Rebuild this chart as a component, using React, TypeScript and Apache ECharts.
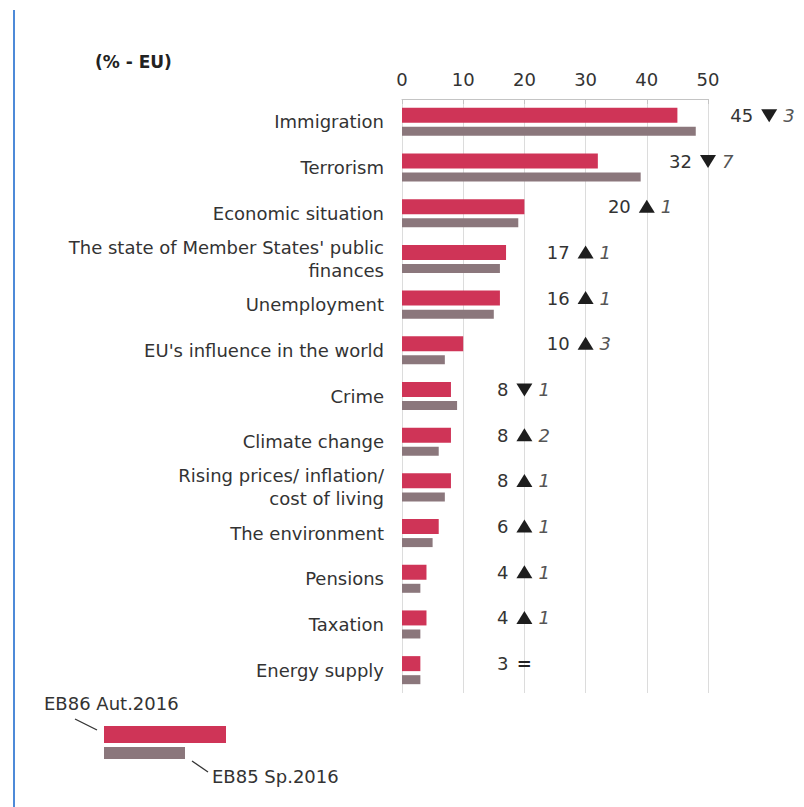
import React, { useEffect, useRef } from "react";
import * as echarts from "echarts";

const categories = [
  "Immigration",
  "Terrorism",
  "Economic situation",
  "The state of Member States' public\nfinances",
  "Unemployment",
  "EU's influence in the world",
  "Crime",
  "Climate change",
  "Rising prices/ inflation/\ncost of living",
  "The environment",
  "Pensions",
  "Taxation",
  "Energy supply",
];
const autumn2016 = [45, 32, 20, 17, 16, 10, 8, 8, 8, 6, 4, 4, 3];
const spring2016 = [48, 39, 19, 16, 15, 7, 9, 6, 7, 5, 3, 3, 3];
const changeValues = [3, 7, 1, 1, 1, 3, 1, 2, 1, 1, 1, 1, 0];
const changeDirections = ["down", "down", "up", "up", "up", "up", "down", "up", "up", "up", "up", "up", "equal"];
const xTicks = { min: 0, max: 50, interval: 10 };
const seriesNames = ["EB86 Aut.2016", "EB85 Sp.2016"];

const RED = "#cf3457";
const GREY = "#8b777c";
const FONT = "DejaVu Sans";

export default function App() {
  const ref = useRef<HTMLDivElement>(null);
  useEffect(() => {
    if (!ref.current) return;
    const chart = echarts.init(ref.current, null, { renderer: "svg" });
    const annotationData = autumn2016.map((v, i) => [
      Math.ceil((v + 11) / 10) * 10,
      i,
      v,
      changeValues[i],
      i,
    ]);
    chart.setOption({
      animation: false,
      title: {
        text: "(% - EU)",
        left: 90,
        top: 48,
        textStyle: { fontSize: 17, fontWeight: "bold", color: "#222", fontFamily: FONT },
      },
      grid: { left: 402, right: 96, top: 99, bottom: 114, containLabel: false },
      xAxis: {
        type: "value",
        position: "top",
        min: xTicks.min,
        max: xTicks.max,
        interval: xTicks.interval,
        axisLine: { show: true, onZero: false, lineStyle: { color: "#c4c4c4", width: 1 } },
        axisTick: { show: true, inside: true, length: 5, lineStyle: { color: "#c4c4c4" } },
        axisLabel: { fontSize: 18, color: "#333", margin: 11, fontFamily: FONT },
        splitLine: { show: true, lineStyle: { color: "#dcdcdc", width: 1 } },
      },
      yAxis: {
        type: "category",
        data: categories,
        inverse: true,
        axisLine: { show: false },
        axisTick: { show: false },
        axisLabel: {
          fontSize: 18,
          color: "#333",
          margin: 18,
          lineHeight: 23,
          fontFamily: FONT,
          align: "right",
        },
      },
      series: [
        {
          name: seriesNames[0],
          type: "bar",
          data: autumn2016,
          barWidth: 15,
          barGap: "27%",
          itemStyle: { color: RED },
        },
        {
          name: seriesNames[1],
          type: "bar",
          data: spring2016,
          barWidth: 9,
          itemStyle: { color: GREY },
        },
        {
          type: "custom",
          clip: false,
          data: annotationData,
          encode: { x: 0, y: 1 },
          renderItem: (params: any, api: any) => {
            const mx = api.value(0);
            const idx = api.value(1);
            const val = api.value(2);
            const chg = api.value(3);
            const dir = changeDirections[api.value(4)];
            const pt = api.coord([mx, idx]);
            const cx = pt[0];
            const cy = pt[1] - 6.5;
            const children: any[] = [
              {
                type: "text",
                style: {
                  text: String(val),
                  x: cx - 16,
                  y: cy,
                  align: "right",
                  verticalAlign: "middle",
                  fontSize: 18,
                  fill: "#333",
                  fontFamily: FONT,
                },
              },
            ];
            if (dir === "equal") {
              children.push({
                type: "text",
                style: {
                  text: "=",
                  x: cx,
                  y: cy,
                  align: "center",
                  verticalAlign: "middle",
                  fontSize: 18,
                  fontWeight: "bold",
                  fill: "#222",
                  fontFamily: FONT,
                },
              });
            } else {
              const pts =
                dir === "down"
                  ? [[cx - 8, cy - 6], [cx + 8, cy - 6], [cx, cy + 7]]
                  : [[cx - 8, cy + 6], [cx + 8, cy + 6], [cx, cy - 7]];
              children.push({
                type: "polygon",
                shape: { points: pts },
                style: { fill: "#1e1e1e" },
              });
              children.push({
                type: "text",
                style: {
                  text: String(chg),
                  x: cx + 14,
                  y: cy,
                  align: "left",
                  verticalAlign: "middle",
                  fontSize: 18,
                  fontStyle: "italic",
                  fill: "#555",
                  fontFamily: FONT,
                },
              });
            }
            return { type: "group", children };
          },
        },
      ],
      graphic: [
        {
          type: "line",
          shape: { x1: 14, y1: 10, x2: 14, y2: 807 },
          style: { stroke: "#4d8ad8", lineWidth: 2 },
        },
        {
          type: "text",
          style: {
            text: seriesNames[0],
            x: 44,
            y: 703,
            verticalAlign: "middle",
            fontSize: 18,
            fill: "#333",
            fontFamily: FONT,
          },
        },
        {
          type: "line",
          shape: { x1: 75, y1: 719, x2: 97, y2: 730 },
          style: { stroke: "#333", lineWidth: 1.3 },
        },
        {
          type: "rect",
          shape: { x: 104, y: 726, width: 122, height: 17 },
          style: { fill: RED },
        },
        {
          type: "rect",
          shape: { x: 104, y: 747, width: 81, height: 12 },
          style: { fill: GREY },
        },
        {
          type: "line",
          shape: { x1: 192, y1: 761, x2: 208, y2: 772 },
          style: { stroke: "#333", lineWidth: 1.3 },
        },
        {
          type: "text",
          style: {
            text: seriesNames[1],
            x: 212,
            y: 776,
            verticalAlign: "middle",
            fontSize: 18,
            fill: "#333",
            fontFamily: FONT,
          },
        },
      ],
    });
    return () => chart.dispose();
  }, []);
  return (
    <div
      ref={ref}
      style={{ position: "fixed", left: 0, top: 0, width: 804, height: 807, background: "#fff" }}
    />
  );
}
